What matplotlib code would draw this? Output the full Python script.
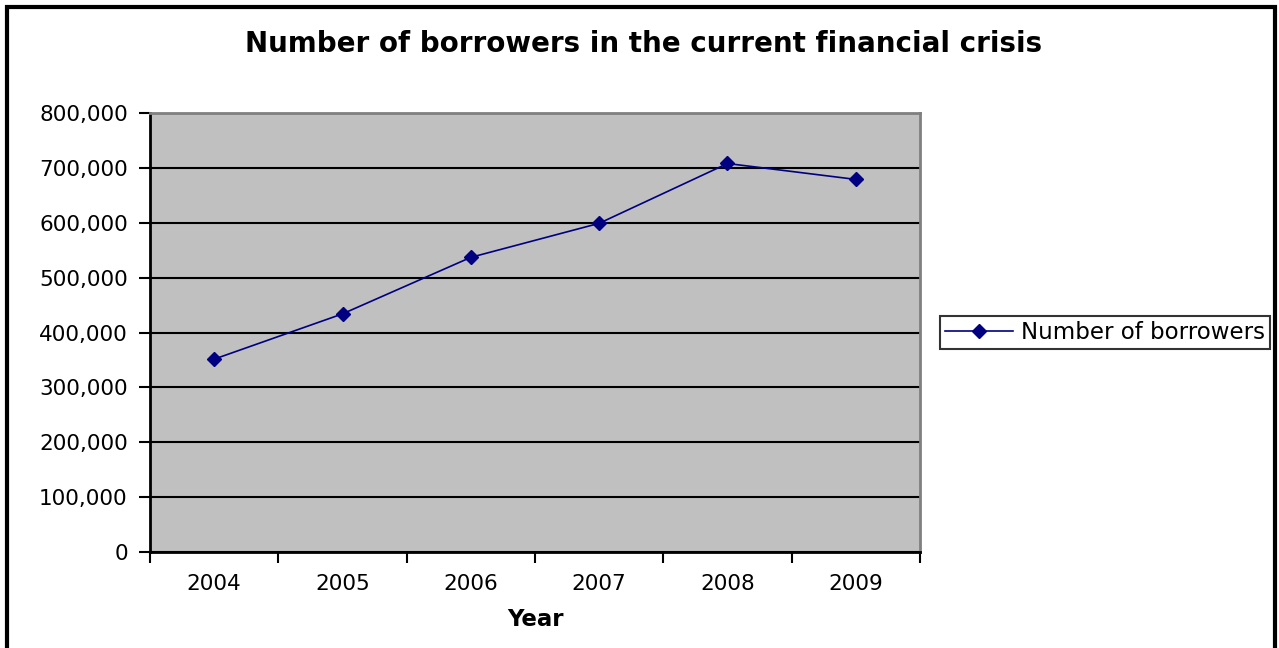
import matplotlib
matplotlib.use("Agg")
import matplotlib.pyplot as plt
from matplotlib.patches import Rectangle
from matplotlib.ticker import FuncFormatter, FixedLocator

years = ["2004", "2005", "2006", "2007", "2008", "2009"]
borrowers = [351500, 434000, 537000, 599000, 708000, 679000]

fig = plt.figure(figsize=(12.79, 6.48), dpi=100)
ax = fig.add_axes([0.1173, 0.1481, 0.602, 0.6775])

x = list(range(len(years)))
ax.plot(x, borrowers, color="#000080", lw=1.2, marker="D", ms=7,
        label="Number of borrowers")

ax.set_facecolor("#C0C0C0")
ax.set_xlim(-0.5, len(years) - 0.5)
ax.set_ylim(0, 800000)
ax.set_yticks(range(0, 800001, 100000))
ax.yaxis.set_major_formatter(FuncFormatter(lambda v, p: f"{int(v):,}"))
ax.grid(axis="y", color="black", lw=1.5)
ax.set_axisbelow(True)

# category boundaries as ticks, labels in the middle
ax.xaxis.set_major_locator(FixedLocator([i - 0.5 for i in range(len(years) + 1)]))
ax.xaxis.set_minor_locator(FixedLocator(x))
ax.set_xticklabels([])
ax.set_xticklabels(years, minor=True)
ax.tick_params(axis="x", which="minor", length=0, pad=16, labelsize=15.5)
ax.tick_params(axis="x", which="major", length=8, width=1.5, direction="out")
ax.tick_params(axis="y", length=8, width=1.5, labelsize=15.5, pad=8)

for s in ["left", "bottom"]:
    ax.spines[s].set_color("black")
    ax.spines[s].set_linewidth(2)
for s in ["top", "right"]:
    ax.spines[s].set_color("#808080")
    ax.spines[s].set_linewidth(2)

ax.set_xlabel("Year", fontsize=16.5, fontweight="bold", labelpad=10)

fig.text(0.503, 0.932, "Number of borrowers in the current financial crisis",
         ha="center", va="center", fontsize=20, fontweight="bold")

leg = fig.legend(loc="center left", bbox_to_anchor=(0.7349, 0.4869),
                 fontsize=16.5, frameon=True, fancybox=False, borderpad=0.2,
                 handlelength=3.0, handletextpad=0.35, borderaxespad=0)
leg.get_frame().set_edgecolor("black")
leg.get_frame().set_linewidth(1.5)

fig.patches.append(Rectangle((0.0055, -0.05), 0.9915, 1.039, transform=fig.transFigure,
                             fill=False, edgecolor="black", lw=3))

fig.savefig("out.png", dpi=100)
